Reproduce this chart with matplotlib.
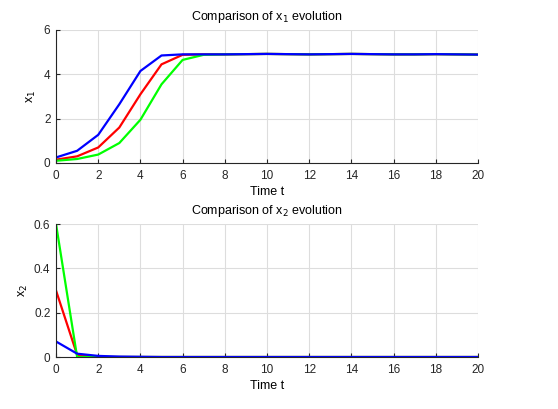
import numpy as np
import matplotlib
matplotlib.use('Agg')
import matplotlib.pyplot as plt

# time steps
t = np.arange(0, 21)
# x1 trajectories
x1_red = [0.15, 0.3, 0.7, 1.6, 3.1, 4.45, 4.88, 4.9, 4.9, 4.91, 4.92, 4.91, 4.9, 4.91, 4.92, 4.91, 4.9, 4.9, 4.91, 4.9, 4.89]
x1_green = [0.1, 0.18, 0.38, 0.9, 1.95, 3.55, 4.65, 4.88, 4.9, 4.91, 4.92, 4.91, 4.9, 4.91, 4.92, 4.91, 4.9, 4.9, 4.91, 4.9, 4.89]
x1_blue = [0.25, 0.55, 1.27, 2.65, 4.15, 4.85, 4.9, 4.9, 4.9, 4.91, 4.92, 4.91, 4.9, 4.91, 4.92, 4.91, 4.9, 4.9, 4.91, 4.9, 4.89]
# x2 trajectories
x2_red = [0.3, 0.01, 0.0, 0.0, 0.0, 0.0, 0.0, 0.0, 0.0, 0.0, 0.0, 0.0, 0.0, 0.0, 0.0, 0.0, 0.0, 0.0, 0.0, 0.0, 0.0]
x2_green = [0.6, 0.0, 0.0, 0.0, 0.0, 0.0, 0.0, 0.0, 0.0, 0.0, 0.0, 0.0, 0.0, 0.0, 0.0, 0.0, 0.0, 0.0, 0.0, 0.0, 0.0]
x2_blue = [0.07, 0.015, 0.005, 0.002, 0.001, 0.0, 0.0, 0.0, 0.0, 0.0, 0.0, 0.0, 0.0, 0.0, 0.0, 0.0, 0.0, 0.0, 0.0, 0.0, 0.0]

plt.rcParams['font.family'] = ['Liberation Sans', 'DejaVu Sans']
plt.rcParams['font.size'] = 8

fig = plt.figure(figsize=(5.58, 4.09), dpi=100)
ax1 = fig.add_axes([0.1004, 0.6015, 0.7562, 0.3252])
ax2 = fig.add_axes([0.1004, 0.1271, 0.7562, 0.3252])


def style(ax):
    ax.set_xlim(0, 20)
    ax.set_xticks(np.arange(0, 21, 2))
    ax.grid(True, color='#dddddd', linewidth=0.8)
    ax.set_axisbelow(True)
    ax.spines['top'].set_visible(False)
    ax.spines['right'].set_visible(False)
    for s in ['left', 'bottom']:
        ax.spines[s].set_color('#262626')
        ax.spines[s].set_linewidth(0.8)
    ax.tick_params(direction='in', length=3, colors='#262626', labelsize=8.5)
    ax.tick_params(axis='x', pad=5)
    ax.tick_params(axis='y', pad=4)


ax1.plot(t, x1_red, color='#ff0000', linewidth=1.6)
ax1.plot(t, x1_green, color='#00ff00', linewidth=1.6)
ax1.plot(t, x1_blue, color='#0000ff', linewidth=1.6)
style(ax1)
ax1.set_ylim(0, 6)
ax1.set_yticks([0, 2, 4, 6])
ax1.set_xlabel('Time t', fontsize=9, labelpad=3)
ax1.set_ylabel('x$_1$', fontsize=9, labelpad=4)
ax1.set_title('Comparison of x$_1$ evolution', fontsize=9, pad=7)

ax2.plot(t, x2_red, color='#ff0000', linewidth=1.6)
ax2.plot(t, x2_green, color='#00ff00', linewidth=1.6)
ax2.plot(t, x2_blue, color='#0000ff', linewidth=1.6)
style(ax2)
ax2.set_ylim(0, 0.6)
ax2.set_yticks([0, 0.2, 0.4, 0.6])
ax2.set_yticklabels(['0', '0.2', '0.4', '0.6'])
ax2.set_xlabel('Time t', fontsize=9, labelpad=3)
ax2.set_ylabel('x$_2$', fontsize=9, labelpad=3)
ax2.set_title('Comparison of x$_2$ evolution', fontsize=9, pad=7)

fig.savefig('out.png', dpi=100)
